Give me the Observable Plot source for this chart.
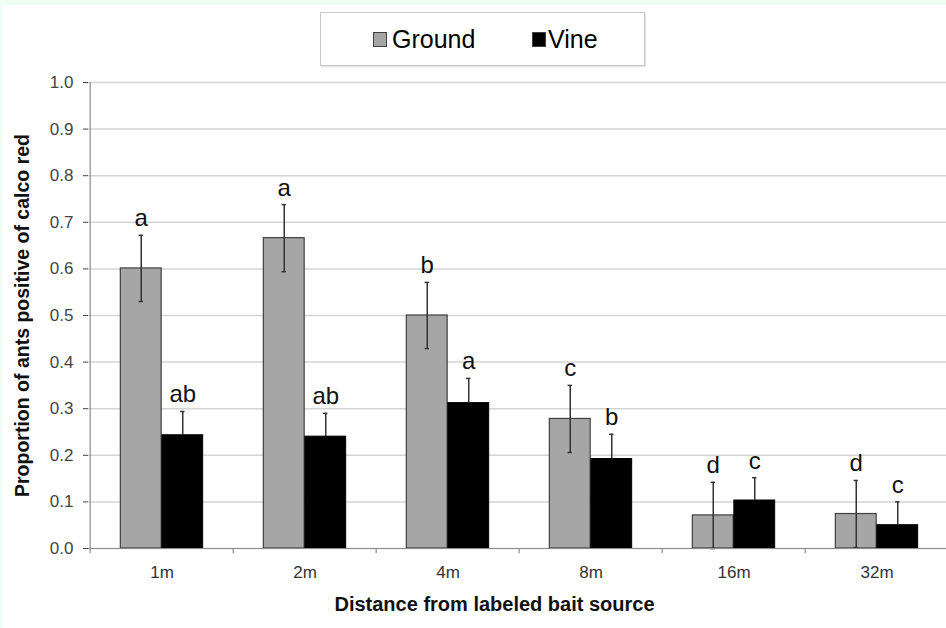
<!DOCTYPE html>
<html>
<head>
<meta charset="utf-8">
<script src="https://cdn.jsdelivr.net/npm/d3@7"></script>
<script src="https://cdn.jsdelivr.net/npm/@observablehq/plot@0.6"></script>
<style>
  html, body { margin: 0; padding: 0; background: #effff3; }
  #page { position: relative; width: 946px; height: 628px; background: #effff3; overflow: hidden; }
  #inner { position: absolute; left: 2px; top: 5px; width: 944px; height: 623px; background: #fff; overflow: hidden;
           font-family: "Liberation Sans", Arial, sans-serif; }
  #legendArea { position: relative; height: 65px; }
  #legendBox { position: absolute; left: 318px; top: 7px; width: 325px; height: 54px; box-sizing: border-box;
               border: 1px solid #c8c8c8; box-shadow: 1px 1px 1px #e4e4e4; background: #fff; }
  .item { position: absolute; top: 12px; font-size: 25px; line-height: 28px; color: #000; }
  .sw { position: absolute; top: 7px; width: 14px; height: 15px; box-sizing: border-box; border: 1px solid #404040; }
  #chart svg { display: block; overflow: hidden; }
</style>
</head>
<body>
<div id="page">
  <div id="inner">
    <div id="legendArea">
      <div id="legendBox">
        <div class="item" style="left:52px;"><span class="sw" style="left:0;background:#a6a6a6;"></span><span style="padding-left:19px;">Ground</span></div>
        <div class="item" style="left:211px;"><span class="sw" style="left:0;background:#000;"></span><span style="padding-left:16px;">Vine</span></div>
      </div>
    </div>
    <div id="chart"></div>
  </div>
</div>
<script>
const categories = ["1m", "2m", "4m", "8m", "16m", "32m"];
const series = ["Ground", "Vine"];
const groundValues = [0.601, 0.666, 0.500, 0.278, 0.071, 0.074];
const groundErrors = [0.071, 0.072, 0.071, 0.072, 0.071, 0.072];
const groundLetters = ["a", "a", "b", "c", "d", "d"];
const vineValues = [0.243, 0.240, 0.312, 0.192, 0.103, 0.050];
const vineErrors = [0.051, 0.050, 0.053, 0.053, 0.049, 0.050];
const vineLetters = ["ab", "ab", "a", "b", "c", "c"];
const yTicks = [0, 0.1, 0.2, 0.3, 0.4, 0.5, 0.6, 0.7, 0.8, 0.9, 1.0];
const yLabel = "Proportion of ants positive of calco red";
const xLabel = "Distance from labeled bait source";

const rows = [];
categories.forEach((c, i) => {
  rows.push({cat: c, series: "Ground", value: groundValues[i], err: groundErrors[i], letter: groundLetters[i]});
  rows.push({cat: c, series: "Vine", value: vineValues[i], err: vineErrors[i], letter: vineLetters[i]});
});
const ground = rows.filter(d => d.series === "Ground");
const vine = rows.filter(d => d.series === "Vine");

const W = 944, H = 558;
const x0 = 86, x1 = 948;
const bw = (x1 - x0) / categories.length;   // band width
const half = bw / 2;
const barW = 41.5;
const off = barW / 2;
const cap = 2.5;
const font = "Liberation Sans, Arial, sans-serif";

const chart = Plot.plot({
  width: W,
  height: H,
  marginLeft: x0,
  marginRight: 0,
  marginTop: 12,
  marginBottom: 80,
  style: {fontFamily: font, background: "#fff", overflow: "hidden"},
  x: {domain: categories, range: [x0, x1], padding: 0, axis: null},
  y: {domain: [0, 1], axis: null},
  marks: [
    Plot.gridY(yTicks, {stroke: "#d4d4d4", strokeOpacity: 1, strokeWidth: 1.5}),
    Plot.axisY(yTicks, {tickSize: 5, tickPadding: 10, tickFormat: d3.format(".1f"), fontSize: 17, color: "#444", label: null}),
    Plot.axisX({tickSize: 0, tickPadding: 17, fontSize: 17, color: "#333", label: null}),
    // bars
    Plot.barY(ground, {x: "cat", y: "value", fill: "#a6a6a6", stroke: "#404040", strokeWidth: 1.2,
      insetLeft: half - barW, insetRight: half}),
    Plot.barY(vine, {x: "cat", y: "value", fill: "#000", stroke: "#000", strokeWidth: 1,
      insetLeft: half, insetRight: half - barW}),
    // error bars
    Plot.ruleX(ground, {x: "cat", y1: d => Math.max(0, d.value - d.err), y2: d => d.value + d.err, dx: -off, stroke: "#333", strokeWidth: 1.5}),
    Plot.ruleX(vine, {x: "cat", y1: "value", y2: d => d.value + d.err, dx: off, stroke: "#333", strokeWidth: 1.5}),
    Plot.tickY(ground, {x: "cat", y: d => d.value + d.err, insetLeft: half - off - cap, insetRight: half + off - cap, stroke: "#333", strokeWidth: 1.5}),
    Plot.tickY(ground, {x: "cat", y: d => Math.max(0, d.value - d.err), insetLeft: half - off - cap, insetRight: half + off - cap, stroke: "#333", strokeWidth: 1.5}),
    Plot.tickY(vine, {x: "cat", y: d => d.value + d.err, insetLeft: half + off - cap, insetRight: half - off - cap, stroke: "#333", strokeWidth: 1.5}),
    // significance letters
    Plot.text(ground, {x: "cat", y: d => d.value + d.err, text: "letter", dx: -off, dy: -9, lineAnchor: "bottom", fontSize: 24, fill: "#111"}),
    Plot.text(vine, {x: "cat", y: d => d.value + d.err, text: "letter", dx: off, dy: -9, lineAnchor: "bottom", fontSize: 24, fill: "#111"}),
    // axis lines and category separators
    Plot.ruleY([0], {stroke: "#8c8c8c", strokeWidth: 1.2}),
    Plot.ruleX(categories.slice(0, 1), {x: d => d, y1: -0.011, y2: 1, dx: -half, stroke: "#8c8c8c", strokeWidth: 1.2}),
    Plot.ruleX(categories.slice(1), {x: d => d, y1: -0.011, y2: 0, dx: -half, stroke: "#8c8c8c", strokeWidth: 1.2}),
    // axis titles
    Plot.text([yLabel], {text: d => d, frameAnchor: "left", textAnchor: "middle", rotate: -90, dx: -66, fontSize: 19.5, fontWeight: "bold", fill: "#111"}),
    Plot.text([xLabel], {text: d => d, frameAnchor: "bottom", textAnchor: "middle", dx: -23, dy: 62, fontSize: 20, fontWeight: "bold", fill: "#111"})
  ]
});
document.getElementById("chart").appendChild(chart);
</script>
</body>
</html>
